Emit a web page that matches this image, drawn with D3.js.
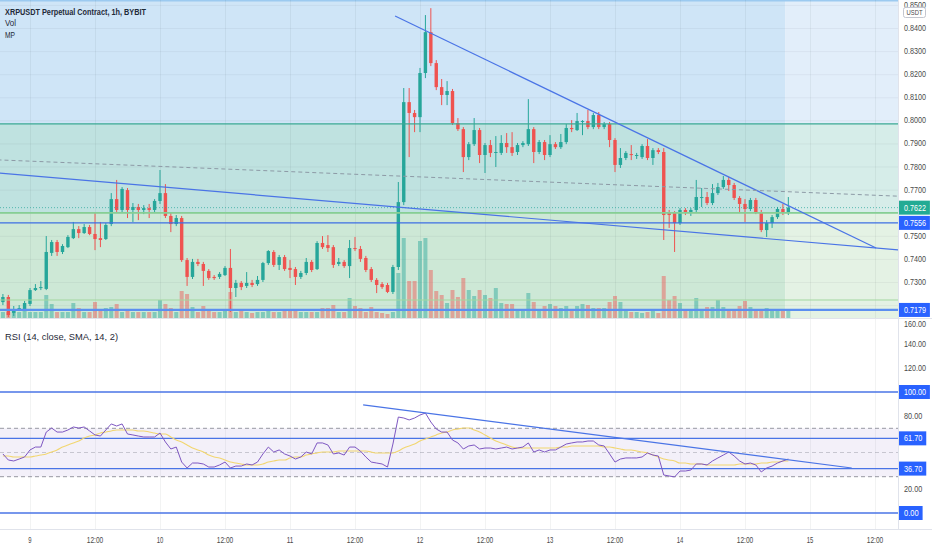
<!DOCTYPE html>
<html>
<head>
<meta charset="utf-8">
<script src="https://cdn.jsdelivr.net/npm/d3@7"></script>
<style>
  body { margin: 0; background: #fff; }
  text { font-family: "Liberation Sans", Arial, sans-serif; }
</style>
</head>
<body>
<div id="chart"></div>
<script>
// XRPUSDT 1h candles, first bar = Dec 8 19:00 (hour -5 from Dec 9 00:00)
const firstHour = -5;
const opens = [
  0.7213,0.7235,0.7166,0.7179,0.7183,
  0.7205,0.7265,0.7274,0.7270,0.7426,0.7473,0.7430,0.7451,0.7490,0.7529,
  0.7512,0.7538,0.7508,0.7490,0.7486,0.7551,0.7659,0.7612,0.7698,0.7612,
  0.7625,0.7612,0.7620,0.7612,0.7651,0.7685,0.7586,0.7551,0.7577,0.7395,
  0.7322,0.7387,0.7378,0.7348,0.7322,0.7322,0.7330,0.7361,0.7274,0.7296,
  0.7283,0.7296,0.7291,0.7309,0.7382,0.7430,0.7374,0.7408,0.7361,0.7356,
  0.7322,0.7339,0.7387,0.7356,0.7469,0.7460,0.7451,0.7378,0.7387,0.7369,
  0.7447,0.7443,0.7404,0.7356,0.7309,0.7291,0.7287,0.7257,0.7365,0.7646,
  0.8079,0.8032,0.8014,0.8205,0.8382,0.8248,0.8144,0.8110,0.8127,0.7988,
  0.7962,0.7841,0.7897,0.7958,0.7850,0.7893,0.7859,0.7859,0.7902,0.7884,
  0.7863,0.7893,0.7897,0.7962,0.7863,0.7906,0.7850,0.7897,0.7884,0.7906,
  0.7967,0.7958,0.7993,0.7997,0.7971,0.8023,0.7971,0.7984,0.7915,0.7807,
  0.7837,0.7854,0.7846,0.7841,0.7889,0.7837,0.7871,0.7863,0.7599,0.7599,
  0.7555,0.7612,0.7603,0.7612,0.7664,0.7668,0.7642,0.7685,0.7711,0.7742,
  0.7720,0.7664,0.7638,0.7616,0.7655,0.7603,0.7525,0.7555,0.7581,0.7616,0.7599
];
const highs = [
  0.7248,0.7244,0.7196,0.7200,0.7218,
  0.7274,0.7291,0.7304,0.7499,0.7482,0.7482,0.7464,0.7503,0.7560,0.7542,
  0.7551,0.7547,0.7599,0.7560,0.7555,0.7685,0.7742,0.7711,0.7707,0.7642,
  0.7638,0.7633,0.7638,0.7659,0.7785,0.7724,0.7603,0.7590,0.7586,0.7404,
  0.7400,0.7400,0.7387,0.7356,0.7330,0.7343,0.7369,0.7443,0.7309,0.7304,
  0.7343,0.7309,0.7326,0.7387,0.7438,0.7438,0.7417,0.7417,0.7395,0.7365,
  0.7348,0.7404,0.7395,0.7477,0.7499,0.7503,0.7460,0.7404,0.7395,0.7482,
  0.7495,0.7456,0.7413,0.7365,0.7317,0.7300,0.7296,0.7374,0.7733,0.8140,
  0.8140,0.8045,0.8227,0.8456,0.8486,0.8261,0.8179,0.8170,0.8136,0.8010,
  0.7971,0.7906,0.8010,0.7967,0.7902,0.7915,0.7932,0.7936,0.7945,0.7949,
  0.7902,0.7910,0.8092,0.7971,0.7915,0.7915,0.7936,0.7906,0.7941,0.7984,
  0.8001,0.8032,0.8001,0.8045,0.8032,0.8036,0.7993,0.7993,0.7923,0.7880,
  0.7867,0.7893,0.7859,0.7897,0.7919,0.7880,0.7880,0.7880,0.7612,0.7607,
  0.7620,0.7620,0.7620,0.7742,0.7707,0.7690,0.7724,0.7729,0.7759,0.7755,
  0.7729,0.7672,0.7659,0.7664,0.7664,0.7612,0.7568,0.7590,0.7625,0.7638,0.7668
];
const lows = [
  0.7200,0.7148,0.7153,0.7174,0.7174,
  0.7196,0.7261,0.7265,0.7265,0.7413,0.7413,0.7421,0.7447,0.7486,0.7490,
  0.7508,0.7503,0.7438,0.7451,0.7482,0.7542,0.7603,0.7603,0.7577,0.7560,
  0.7568,0.7594,0.7577,0.7603,0.7638,0.7577,0.7516,0.7542,0.7387,0.7283,
  0.7313,0.7369,0.7283,0.7309,0.7309,0.7313,0.7326,0.7170,0.7235,0.7265,
  0.7274,0.7278,0.7283,0.7300,0.7374,0.7365,0.7352,0.7348,0.7317,0.7287,
  0.7313,0.7330,0.7343,0.7352,0.7443,0.7430,0.7361,0.7369,0.7361,0.7317,
  0.7434,0.7387,0.7343,0.7300,0.7252,0.7270,0.7252,0.7248,0.7352,0.7633,
  0.7841,0.7949,0.7949,0.8183,0.8235,0.8131,0.8066,0.8066,0.7980,0.7954,
  0.7776,0.7828,0.7889,0.7815,0.7772,0.7841,0.7798,0.7850,0.7859,0.7846,
  0.7850,0.7884,0.7889,0.7815,0.7854,0.7828,0.7841,0.7876,0.7876,0.7897,
  0.7949,0.7954,0.7936,0.7962,0.7962,0.7962,0.7962,0.7884,0.7776,0.7794,
  0.7828,0.7828,0.7833,0.7833,0.7828,0.7807,0.7854,0.7482,0.7534,0.7430,
  0.7547,0.7590,0.7586,0.7603,0.7625,0.7633,0.7633,0.7677,0.7703,0.7694,
  0.7655,0.7603,0.7560,0.7607,0.7594,0.7516,0.7495,0.7534,0.7573,0.7590,0.7590
];
const closes = [
  0.7235,0.7157,0.7183,0.7187,0.7209,
  0.7265,0.7274,0.7278,0.7430,0.7473,0.7430,0.7456,0.7495,0.7529,0.7512,
  0.7538,0.7508,0.7486,0.7482,0.7547,0.7659,0.7612,0.7703,0.7612,0.7625,
  0.7612,0.7620,0.7612,0.7651,0.7685,0.7586,0.7551,0.7577,0.7395,0.7322,
  0.7387,0.7378,0.7348,0.7317,0.7317,0.7335,0.7361,0.7274,0.7296,0.7278,
  0.7296,0.7287,0.7309,0.7382,0.7434,0.7374,0.7408,0.7356,0.7352,0.7322,
  0.7339,0.7387,0.7352,0.7469,0.7451,0.7447,0.7374,0.7387,0.7369,0.7447,
  0.7443,0.7400,0.7352,0.7309,0.7287,0.7278,0.7257,0.7365,0.7646,0.8079,
  0.8032,0.8014,0.8205,0.8382,0.8248,0.8144,0.8110,0.8127,0.7988,0.7962,
  0.7841,0.7897,0.7958,0.7850,0.7893,0.7859,0.7863,0.7902,0.7884,0.7859,
  0.7893,0.7902,0.7962,0.7863,0.7906,0.7850,0.7897,0.7884,0.7906,0.7967,
  0.7962,0.7997,0.7997,0.7971,0.8023,0.7971,0.7984,0.7915,0.7807,0.7837,
  0.7859,0.7850,0.7850,0.7889,0.7837,0.7871,0.7863,0.7590,0.7590,0.7555,
  0.7612,0.7603,0.7612,0.7668,0.7668,0.7642,0.7685,0.7711,0.7742,0.7720,
  0.7664,0.7638,0.7616,0.7655,0.7603,0.7525,0.7555,0.7581,0.7616,0.7599,0.7622
];
// volume, millions
const volumes = [
  3,3,4,3,3.5,
  3,3,3,11.5,7,3,3,3,7.5,5,
  3,3,8,4,5,5.5,7,3,3.5,3,
  3,3,3,3,9,7,5,3,13.5,12,
  5.5,3,6,4,3,3,4,13,3,4,
  3,2.5,3,3,3.5,3,3,4,4,3.5,
  3,3,3,3,5,5,6.5,3,3,10,
  6,5,3,5.5,3,2.5,2,3,22.5,40,
  18.5,18.5,38.5,40,24,13.5,11.5,7.5,14,10.5,
  20,14,11,14,11.5,10,15,7.5,7,7,
  4,4,12.5,8,4,6,7,6,5,6,
  4,6,7,6.5,5,5,5,8,11,8,
  4,3,3,2.5,3,3.5,2.5,21,9,11,
  7.5,4,4,10,4,5.5,5.5,9,5.5,4.5,
  4.5,6,8.5,5.5,4,4.5,5,4.5,3.5,4,3.5
];
const rsi = [
  48.8,43.8,43.0,44.6,46.3,
  52.1,54.5,54.5,66.9,70.2,66.9,66.9,68.6,71.1,70.2,
  71.1,67.8,64.5,63.6,68.6,73.6,71.9,73.6,65.3,64.5,
  63.6,62.8,62.8,62.8,66.1,58.7,52.9,54.5,42.1,37.2,
  41.3,41.3,40.5,38.0,38.0,39.7,42.1,37.2,38.8,38.8,
  40.5,39.7,42.1,48.8,54.5,50.4,52.1,48.8,47.1,44.6,
  46.3,50.4,48.8,57.9,57.9,56.2,48.8,49.6,47.9,54.5,
  54.5,51.2,46.3,42.1,41.3,40.5,38.0,57.0,79.3,78.5,
  76.9,78.5,81.0,82.6,75.2,69.4,66.9,66.9,60.3,57.9,
  52.9,55.4,56.2,52.9,53.7,53.7,52.9,53.7,54.5,52.9,
  53.7,54.5,57.9,50.4,52.1,50.4,52.1,52.1,54.5,57.0,
  57.9,58.7,58.7,59.5,59.5,56.2,55.4,48.8,42.1,44.6,
  45.5,45.5,45.5,46.3,49.6,47.9,47.1,31.4,30.6,29.8,
  34.7,34.7,35.5,40.5,40.5,39.7,43.0,45.5,47.9,50.4,
  47.1,43.0,40.5,41.3,39.7,33.9,37.2,38.8,41.3,43.0,44.6
];
const rsiSma = [
  47.1,47.1,46.3,46.3,46.3,
  46.3,47.1,47.9,48.8,50.4,52.1,54.5,56.2,57.9,59.5,
  62.0,63.6,64.5,66.1,66.9,67.8,68.6,68.6,68.6,68.6,
  67.8,67.8,66.9,66.1,65.3,65.3,62.8,60.3,58.7,56.2,
  53.7,52.1,50.4,47.9,46.3,45.5,43.8,42.1,41.3,40.5,
  39.7,39.7,39.7,40.5,42.1,43.0,43.8,43.8,45.5,46.3,
  46.3,47.9,48.8,49.6,50.4,50.4,50.4,51.2,51.2,51.2,
  51.2,51.2,51.2,50.4,49.6,49.6,49.6,49.6,51.2,53.7,
  55.4,57.0,59.5,61.2,62.8,64.5,66.1,66.9,68.6,69.4,
  70.2,70.2,68.6,66.9,64.5,62.0,59.5,57.9,56.2,54.5,
  53.7,53.7,53.7,53.7,53.7,53.7,53.7,53.7,54.5,54.5,
  55.4,55.4,55.4,55.4,55.4,55.4,54.5,54.5,53.7,52.9,
  52.1,52.1,51.2,50.4,49.6,47.9,46.3,44.6,43.8,43.0,
  41.3,41.3,40.5,40.5,40.5,39.7,39.7,39.7,39.7,39.7,
  39.7,40.5,40.5,40.5,40.5,41.3,41.3,42.1,42.1,43.0,43.0
];
const priceTicks = [0.85,0.84,0.83,0.82,0.81,0.80,0.79,0.78,0.77,0.76,0.75,0.74,0.73,0.72];
const rsiTicks = [0,20,40,60,80,100,120,140,160];

// drawings (hours from Dec 9 00:00, price)
const zoneSplit = 139.4;
const zones = [
  {from: 0.8700, to: 0.7985, fill: "#cfe5f7", right: "#e2eefa"},
  {from: 0.7985, to: 0.7599, fill: "#bfe2e0", right: "#d6ede9"},
  {from: 0.7599, to: 0.7000, fill: "#cde8d6", right: "#e4f2e4"}
];
const levels = [
  {p: 0.7985, color: "#3aa894", w: 1.2},
  {p: 0.7599, color: "#86cf94", w: 1.8},
  {p: 0.7556, color: "#3d6fe3", w: 1.2},
  {p: 0.7222, color: "#a2d79f", w: 1},
  {p: 0.7179, color: "#5b8ff0", w: 2.2}
];
const trendLines = [
  {a: [-5.6, 0.7772], b: [160.3, 0.7439], color: "#4a74e6", w: 1.2},
  {a: [67.4, 0.8452], b: [156.2, 0.7447], color: "#4a74e6", w: 1.2},
  {a: [-6, 0.7829], b: [161, 0.7671], color: "#8d9aa6", w: 1, dash: "4,3"}
];
const rsiLevels = [100, 61.7, 36.7, 0];
const rsiTrend = {a: [61.5, 89.3], b: [151.7, 37.2]};
const priceTags = [
  {p: 0.7622, color: "#22ab94"},
  {p: 0.7556, color: "#2962ff"},
  {p: 0.7179, color: "#2962ff"}
];

const W = 932, H = 550, plotW = 898;
const mainBot = 318, rsiTop = 319, rsiBot = 529;
const day0 = Date.UTC(2021, 11, 9);
const hour = h => new Date(day0 + h * 3600e3);

const x = d3.scaleUtc().domain([hour(0), hour(144)]).range([30, 810]);
const y = d3.scaleLinear().domain([0.73, 0.84]).range([282, 28]);
const yVol = d3.scaleLinear().domain([0, 159]).range([mainBot, 0]);
const yRsi = d3.scaleLinear().domain([0, 100]).range([513, 392]);

const bars = closes.map((c, i) => ({
  t: hour(firstHour + i), o: opens[i], h: highs[i], l: lows[i], c: c,
  v: volumes[i], rsi: rsi[i], sma: rsiSma[i]
}));

const svg = d3.select("#chart").append("svg")
  .attr("width", W).attr("height", H)
  .style("display", "block").style("background", "#fff");

const defs = svg.append("defs");
defs.append("clipPath").attr("id", "clipMain")
  .append("rect").attr("x", 0).attr("y", 0).attr("width", plotW).attr("height", mainBot);
defs.append("clipPath").attr("id", "clipRsi")
  .append("rect").attr("x", 0).attr("y", rsiTop).attr("width", plotW).attr("height", rsiBot - rsiTop);

const main = svg.append("g").attr("clip-path", "url(#clipMain)");
const pane2 = svg.append("g").attr("clip-path", "url(#clipRsi)");

// background zones
zones.forEach(z => {
  main.append("rect").attr("x", 0).attr("y", y(z.from))
    .attr("width", x(hour(zoneSplit))).attr("height", y(z.to) - y(z.from))
    .attr("fill", z.fill);
  main.append("rect").attr("x", x(hour(zoneSplit))).attr("y", y(z.from))
    .attr("width", plotW - x(hour(zoneSplit))).attr("height", y(z.to) - y(z.from))
    .attr("fill", z.right);
});
main.append("line").attr("x1", 0).attr("x2", plotW).attr("y1", 0.8).attr("y2", 0.8)
  .attr("stroke", "#9ccaf0").attr("stroke-width", 1.6);

// grid
const timeTicks = d3.utcHour.every(12).range(hour(-12), hour(168));
[main, pane2].forEach((g, k) => {
  g.selectAll(null).data(timeTicks).enter().append("line")
    .attr("x1", d => x(d) + 0.5).attr("x2", d => x(d) + 0.5)
    .attr("y1", k ? rsiTop : 0).attr("y2", k ? rsiBot : mainBot)
    .attr("stroke", "rgba(42,46,57,0.06)");
});
main.selectAll(null).data(priceTicks).enter().append("line")
  .attr("x1", 0).attr("x2", plotW)
  .attr("y1", d => y(d) + 0.5).attr("y2", d => y(d) + 0.5)
  .attr("stroke", "rgba(42,46,57,0.05)");

// volume
main.selectAll(null).data(bars).enter().append("rect")
  .attr("x", d => x(d.t) - 2).attr("width", 4)
  .attr("y", d => yVol(d.v)).attr("height", d => mainBot - yVol(d.v))
  .attr("fill", d => d.c >= d.o ? "rgba(38,166,154,0.45)" : "rgba(239,83,80,0.45)");

// candles
const candle = main.selectAll(null).data(bars).enter().append("g");
candle.append("line")
  .attr("x1", d => x(d.t)).attr("x2", d => x(d.t))
  .attr("y1", d => y(d.h)).attr("y2", d => y(d.l))
  .attr("stroke", d => d.c >= d.o ? "#26a69a" : "#ef5350").attr("stroke-width", 1);
candle.append("rect")
  .attr("x", d => x(d.t) - 1.7).attr("width", 3.4)
  .attr("y", d => y(Math.max(d.o, d.c)))
  .attr("height", d => Math.max(1, Math.abs(y(d.o) - y(d.c))))
  .attr("fill", d => d.c >= d.o ? "#26a69a" : "#ef5350");

// horizontal levels and trend lines
main.selectAll(null).data(levels).enter().append("line")
  .attr("x1", 0).attr("x2", plotW)
  .attr("y1", d => y(d.p)).attr("y2", d => y(d.p))
  .attr("stroke", d => d.color).attr("stroke-width", d => d.w);
const last = bars[bars.length - 1];
main.append("line").attr("x1", 0).attr("x2", plotW)
  .attr("y1", y(last.c)).attr("y2", y(last.c))
  .attr("stroke", "#26a69a").attr("stroke-dasharray", "1,2").attr("opacity", 0.7);
main.selectAll(null).data(trendLines).enter().append("line")
  .attr("x1", d => x(hour(d.a[0]))).attr("y1", d => y(d.a[1]))
  .attr("x2", d => x(hour(d.b[0]))).attr("y2", d => y(d.b[1]))
  .attr("stroke", d => d.color).attr("stroke-width", d => d.w)
  .attr("stroke-dasharray", d => d.dash || null);

// RSI pane
pane2.append("rect").attr("x", 0).attr("width", plotW)
  .attr("y", yRsi(70)).attr("height", yRsi(30) - yRsi(70))
  .attr("fill", "rgba(126,87,194,0.09)");
[70, 50, 30].forEach(v => {
  pane2.append("line").attr("x1", 0).attr("x2", plotW)
    .attr("y1", yRsi(v)).attr("y2", yRsi(v))
    .attr("stroke", "#787b86").attr("stroke-dasharray", "4,3")
    .attr("opacity", v === 50 ? 0.35 : 0.75);
});
pane2.selectAll(null).data(rsiLevels).enter().append("line")
  .attr("x1", 0).attr("x2", plotW)
  .attr("y1", d => yRsi(d)).attr("y2", d => yRsi(d))
  .attr("stroke", "#4a74e6").attr("stroke-width", 1.3);
pane2.append("path").datum(bars)
  .attr("d", d3.line().x(d => x(d.t)).y(d => yRsi(d.sma)).curve(d3.curveMonotoneX))
  .attr("fill", "none").attr("stroke", "#f2d66f").attr("stroke-width", 1.1);
pane2.append("path").datum(bars)
  .attr("d", d3.line().x(d => x(d.t)).y(d => yRsi(d.rsi)))
  .attr("fill", "none").attr("stroke", "#7e57c2").attr("stroke-width", 1);
pane2.append("line")
  .attr("x1", x(hour(rsiTrend.a[0]))).attr("y1", yRsi(rsiTrend.a[1]))
  .attr("x2", x(hour(rsiTrend.b[0]))).attr("y2", yRsi(rsiTrend.b[1]))
  .attr("stroke", "#4a74e6").attr("stroke-width", 1.2);

// separators and axis area
svg.append("rect").attr("x", plotW).attr("y", 0).attr("width", W - plotW).attr("height", H).attr("fill", "#fff");
svg.append("rect").attr("x", 0).attr("y", rsiBot).attr("width", W).attr("height", H - rsiBot).attr("fill", "#fff");
svg.append("line").attr("x1", 0).attr("x2", W).attr("y1", mainBot + 0.5).attr("y2", mainBot + 0.5).attr("stroke", "#e0e3eb");
svg.append("line").attr("x1", 0).attr("x2", W).attr("y1", rsiBot + 0.5).attr("y2", rsiBot + 0.5).attr("stroke", "#e0e3eb");
svg.append("line").attr("x1", plotW + 0.5).attr("x2", plotW + 0.5).attr("y1", 0).attr("y2", rsiBot).attr("stroke", "#e0e3eb");

function label(g, str, px, py, opts) {
  const o = opts || {};
  const t = g.append("text").attr("x", px).attr("y", py)
    .attr("font-size", o.size || 9).attr("fill", o.fill || "#4a4a4a")
    .attr("dominant-baseline", o.base || "central")
    .attr("text-anchor", o.anchor || "start")
    .attr("font-weight", o.weight || 400)
    .text(str);
  if (o.len) t.attr("textLength", o.len).attr("lengthAdjust", "spacingAndGlyphs");
  return t;
}

const fmtP = d3.format(".4f"), fmtR = d3.format(".2f");
// axis labels that sit under a value tag are hidden, as the platform does
const tagYs = priceTags.map(d => y(d.p)).concat(rsiLevels.map(v => yRsi(v)));
const free = py => tagYs.every(ty => Math.abs(ty - py) > 7.5);
// the top label is cut by the chart edge, above the currency box
priceTicks.filter(p => free(y(p))).forEach(p => label(svg, fmtP(p), 904, Math.max(y(p), -0.8), {len: 22}));
rsiTicks.filter(v => free(yRsi(v))).forEach(v => {
  const s = fmtR(v);
  label(svg, s, 904, Math.max(yRsi(v), 324), {len: s.length * 3.65});
});

function tag(str, py, color) {
  const len = str.length * 3.65;
  svg.append("rect").attr("x", plotW + 1).attr("y", py - 7)
    .attr("width", len + 9).attr("height", 14).attr("fill", color);
  label(svg, str, 904, py, {len: len, fill: "#fff"});
}
priceTags.forEach(d => tag(fmtP(d.p), y(d.p), d.color));
rsiLevels.forEach(v => tag(fmtR(v), yRsi(v), "#2962ff"));

// currency box
svg.append("rect").attr("x", 903.5).attr("y", 7.5).attr("width", 22).attr("height", 10).attr("rx", 2)
  .attr("fill", "#fff").attr("stroke", "#c3c6cf");
label(svg, "USDT", 914.5, 12.6, {anchor: "middle", len: 16, size: 7.5, fill: "#4a4a4a"});

// time axis
timeTicks.filter(d => x(d) > 0 && x(d) < plotW).forEach(d => {
  const s = d.getUTCHours() === 0 ? String(d.getUTCDate()) : "12:00";
  label(svg, s, x(d), 540, {anchor: "middle", len: s.length * 3.3, fill: "#4a4a4a"});
});

// legends
label(svg, "XRPUSDT Perpetual Contract, 1h, BYBIT", 5, 15, {base: "alphabetic", len: 141, weight: 700, fill: "#1f2a38", size: 9});
label(svg, "Vol", 5, 26, {base: "alphabetic", len: 11, fill: "#1f2a38", size: 9});
label(svg, "MP", 5, 37.5, {base: "alphabetic", len: 10, fill: "#1f2a38", size: 9});
label(svg, "RSI (14, close, SMA, 14, 2)", 5, 340, {base: "alphabetic", len: 113, fill: "#1f2a38", size: 9});
</script>
</body>
</html>
